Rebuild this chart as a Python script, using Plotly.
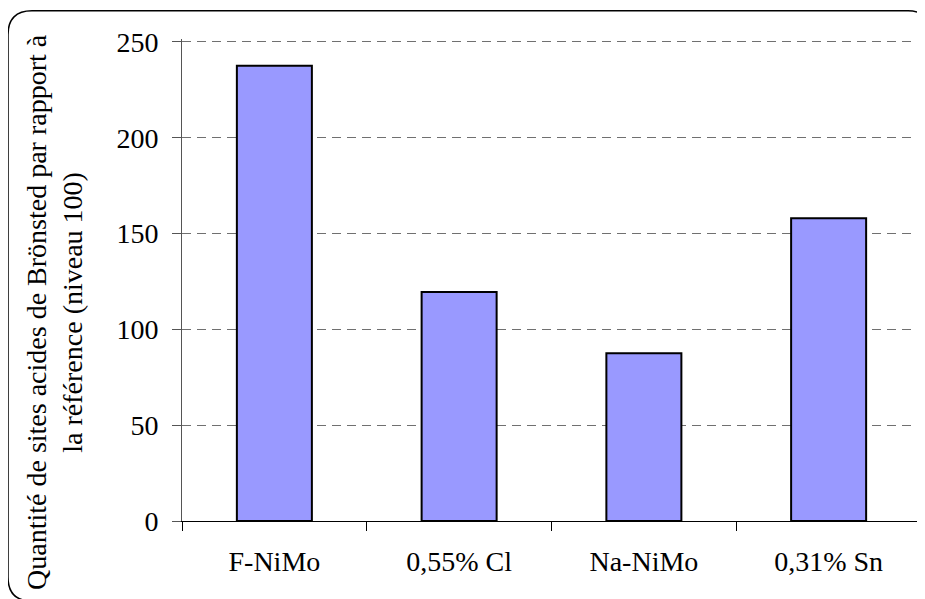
import plotly.graph_objects as go

categories = ["F-NiMo", "0,55% Cl", "Na-NiMo", "0,31% Sn"]
values = [237.5, 119.5, 87.5, 158]
y_ticks = [0, 50, 100, 150, 200, 250]
y_title_lines = ["Quantité de sites acides de Brönsted par rapport à", "la référence (niveau 100)"]

FONT = "Liberation Serif, Times New Roman, serif"
OFF = 8  # page body offset
YMAX = 251.5
SCALE = (521 - 42) / 250.0  # px per unit
W, H = 925 - OFF, 599 - OFF
L = 182 - OFF
T = (521 - YMAX * SCALE) - OFF
R = W - (921 - OFF)
B = H - (521 - OFF)
pw, ph = W - L - R, H - T - B

def px(x):
    return (x - OFF - L) / pw

def py(y):
    return (H - B - (y - OFF)) / ph

fig = go.Figure()
fig.add_trace(go.Bar(
    x=categories, y=values,
    marker=dict(color="#9999FF", line=dict(color="black", width=2)),
    width=0.406,
))

# rounded frame
x0, x1 = px(8), px(932)
y0, y1 = py(11), py(601)
rx, ry = 24 / pw, 24 / ph
path = (f"M {x0+rx},{y0} L {x1-rx},{y0} Q {x1},{y0} {x1},{y0-ry} "
        f"L {x1},{y1+ry} Q {x1},{y1} {x1-rx},{y1} L {x0+rx},{y1} "
        f"Q {x0},{y1} {x0},{y1+ry} L {x0},{y0-ry} Q {x0},{y0} {x0+rx},{y0} Z")
fig.add_shape(type="path", path=path, xref="paper", yref="paper",
              line=dict(color="black", width=1.5), layer="above")

fig.add_annotation(
    text="<br>".join(y_title_lines), textangle=-90,
    xref="paper", yref="paper", x=px(55), y=py(312),
    xanchor="center", yanchor="middle", showarrow=False,
    font=dict(family=FONT, size=28, color="black"),
)

fig.update_layout(
    width=W, height=H,
    margin=dict(l=L, r=R, t=T, b=B),
    paper_bgcolor="white", plot_bgcolor="white",
    font=dict(family=FONT, size=28, color="black"),
    showlegend=False,
    xaxis=dict(
        showline=True, linecolor="black", linewidth=1,
        ticks="outside", ticklen=9, tickcolor="black", tickson="boundaries",
        showgrid=False, ticklabelstandoff=15,
    ),
    yaxis=dict(
        range=[0, YMAX], tickvals=y_ticks,
        showline=True, linecolor="#555555", linewidth=1,
        ticks="outside", ticklen=9, tickcolor="#555555",
        showgrid=True, gridcolor="#707070", griddash="9px,6px", gridwidth=1,
        zeroline=False, ticklabelstandoff=8,
    ),
)

fig.write_html("out.html")
